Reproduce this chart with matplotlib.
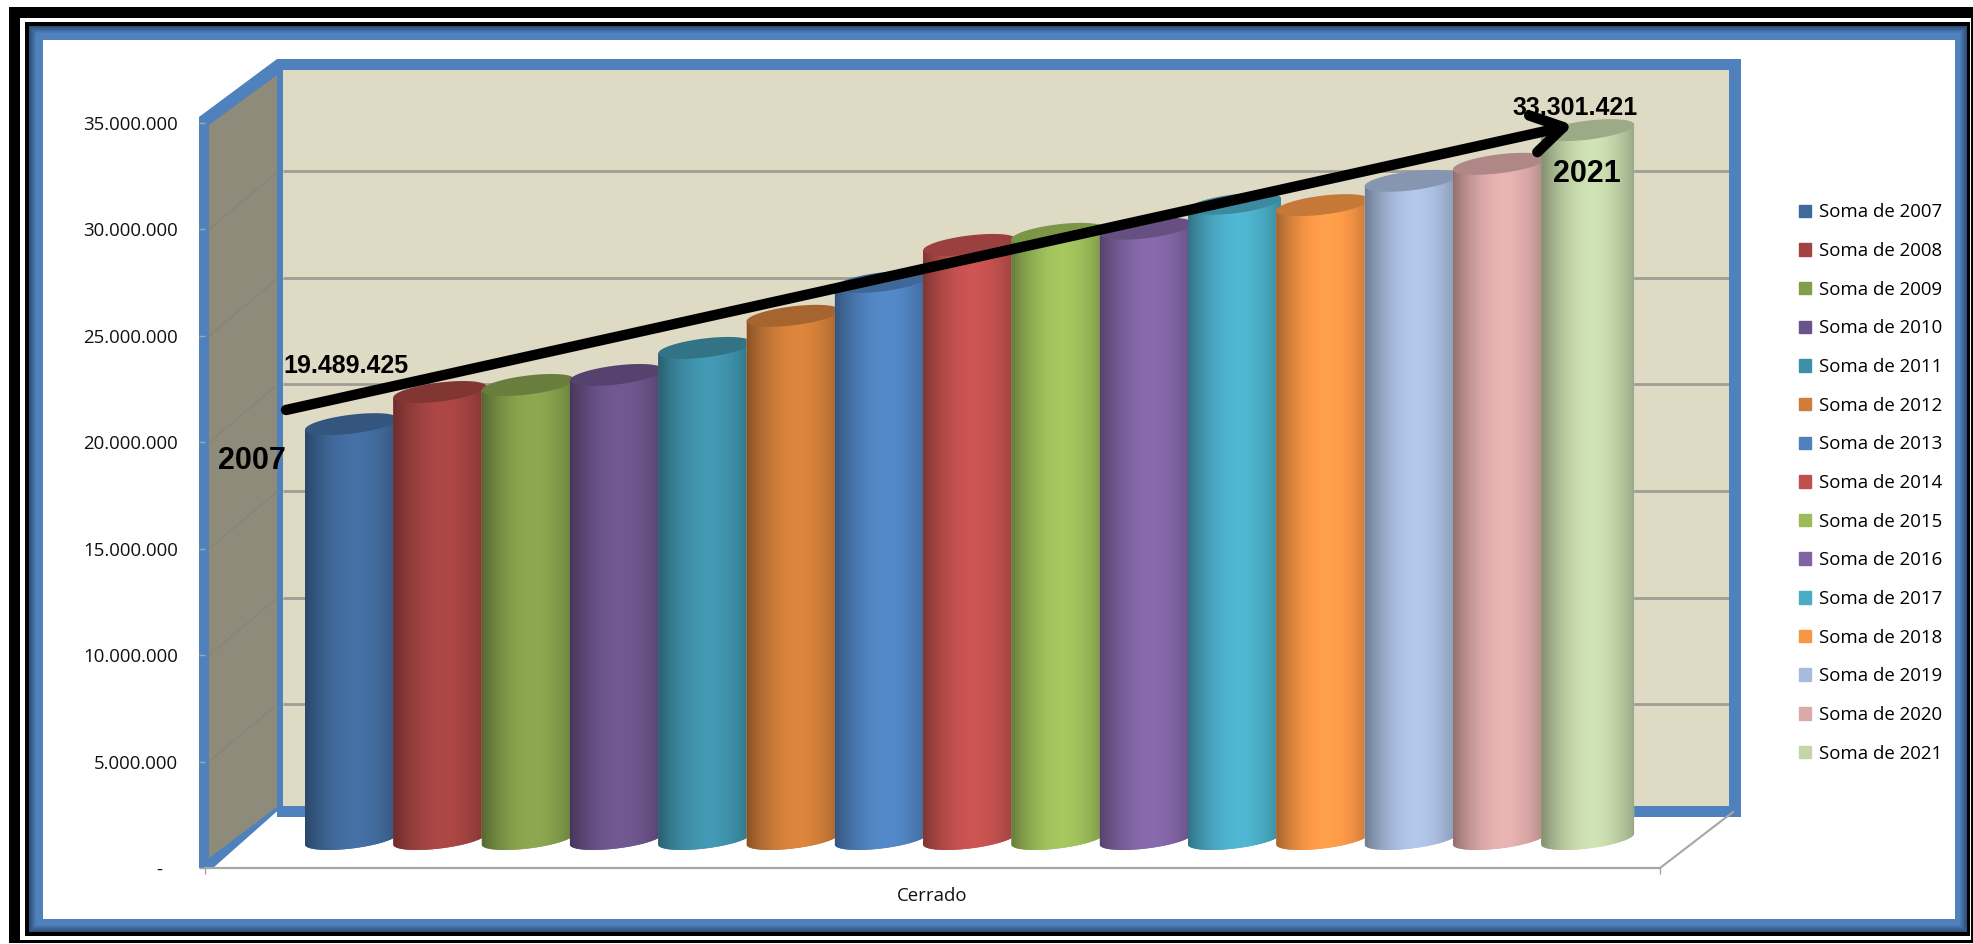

# Cerrado: cilindros 3D por ano (2007-2021)

import numpy as np
import matplotlib
matplotlib.use('Agg')
import matplotlib.pyplot as plt
from matplotlib.patches import Patch, Polygon, Rectangle

W, H = 1973, 944

years = list(range(2007, 2022))
values = [19489425, 21000000, 21330000, 21800000, 23070000, 24580000, 26170000, 27910000,
          28430000, 28670000, 29840000, 29780000, 30920000, 31720000, 33301421]
colors = ['#416A9C', '#A24341', '#839E4B', '#6A5389', '#3E90A8', '#CF7D39', '#4F81BD', '#C0504D',
          '#9BBB59', '#8064A2', '#4BACC6', '#F79646', '#A8BBDD', '#DBA9A8', '#C3D5A9']
y_ticks = [0, 5000000, 10000000, 15000000, 20000000, 25000000, 30000000, 35000000]
y_labels = ['-   ', '5.000.000', '10.000.000', '15.000.000', '20.000.000', '25.000.000', '30.000.000', '35.000.000']

BLUE = '#4F81BD'
TEXT_FONT = ['Open Sans', 'DejaVu Sans']
BOLD_FONT = ['Liberation Sans', 'DejaVu Sans']

PX_PER_UNIT = 745 / 35000000  # escala vertical em pixels


def px_axes(fig, x0, x1, y_bottom, y_top, **kw):
    # eixos posicionados em pixels da imagem
    return fig.add_axes([x0 / W, 1 - y_bottom / H, (x1 - x0) / W, (y_bottom - y_top) / H], **kw)


def fmt(v):
    return f'{v:,}'.replace(',', '.')


def shade(color, k):
    rgb = np.array(matplotlib.colors.to_rgb(color))
    return np.clip(rgb * k, 0, 1)


def draw_frame(ax):
    ax.add_patch(Rectangle((9, 7), W - 9, 937 - 1, color='black', lw=0))
    ax.add_patch(Rectangle((20, 18), W - 22, 922, color='white', lw=0))
    ax.add_patch(Rectangle((25, 22), 1944.5, 914, color='black', lw=0))
    dark = np.array(matplotlib.colors.to_rgb('#2F4F78'))
    light = np.array(matplotlib.colors.to_rgb(BLUE))
    for i in range(8):
        c = dark + (light - dark) * i / 7
        ax.add_patch(Rectangle((29 + i, 26 + i), 1938 - 2 * i, 906 - 2 * i, color=c, lw=0))
    ax.add_patch(Rectangle((43, 40), 1912, 879, color='white', lw=0))


def draw_walls(ax):
    # pared del fondo
    ax.add_patch(Rectangle((277, 59), 1464, 758, color=BLUE, lw=0))
    ax.add_patch(Rectangle((283, 70), 1446, 736, color='#DEDAC4', lw=0))
    # pared lateral con su borde
    ax.add_patch(Polygon([(199, 117), (277, 59), (283, 59), (283, 806), (213, 868), (199, 868)], color=BLUE, lw=0))
    ax.add_patch(Polygon([(209, 125), (277, 75), (277, 807), (209, 858)], color='#8E8B7A', lw=0))
    for v in y_ticks[1:-1]:
        ax.plot([209, 277], [868 - v * PX_PER_UNIT, 811 - v * PX_PER_UNIT], color='#86847A', lw=0.9)
    ax.plot([1660, 1733], [868, 812], color='#A6A6A6', lw=1.5)


def draw_cylinder(ax, i, v, color, half_w=0.5266):
    rx = half_w
    t = np.linspace(0, 2 * np.pi, 120)
    ry = 9.5 / PX_PER_UNIT
    tilt = 5.5 / PX_PER_UNIT

    # cuerpo: lado superior recto, borde inferior del elipse de abajo
    t_low = np.linspace(np.pi, 2 * np.pi, 60)
    low_x = i + rx * np.cos(t_low)
    low_y = ry * np.sin(t_low) + tilt * np.cos(t_low)
    body_x = np.concatenate([[i - rx], low_x, [i + rx]])
    body_y = np.concatenate([[v - tilt], low_y, [v + tilt]])
    body = Polygon(np.column_stack([body_x, body_y]), closed=True, color=color, lw=0)
    ax.add_patch(body)

    # gradiente horizontal del cilindro
    pos = np.linspace(0, 1, 96)
    prof = 1.07 - 0.40 * np.abs((pos - 0.55) / 0.55) ** 1.9
    base = np.array(matplotlib.colors.to_rgb(color))
    img = np.clip(prof[None, :, None] * base[None, None, :], 0, 1)
    im = ax.imshow(img, extent=(i - rx, i + rx, -3 * ry, v + 2 * ry), aspect='auto',
                   interpolation='bilinear', zorder=body.get_zorder())
    im.set_clip_path(body)

    top_x = i + rx * np.cos(t)
    top_y = v + ry * np.sin(t) + tilt * np.cos(t)
    ax.add_patch(Polygon(np.column_stack([top_x, top_y]), closed=True, color=shade(color, 0.8), lw=0, zorder=body.get_zorder()))


if __name__ == '__main__':
    fig = plt.figure(figsize=(W / 100, H / 100), dpi=100, facecolor='white')

    ax_bg = px_axes(fig, 0, W, H, 0)
    ax_bg.set_xlim(0, W)
    ax_bg.set_ylim(H, 0)
    ax_bg.axis('off')
    draw_frame(ax_bg)
    draw_walls(ax_bg)

    # lineas de la pared del fondo
    ax_back = px_axes(fig, 283, 1729, 811, 64.3)
    ax_back.set_ylim(0, 35000000)
    ax_back.set_xlim(0, 1)
    ax_back.patch.set_alpha(0)
    ax_back.hlines(y_ticks[1:-1], 0, 1, color='#A09E94', lw=2)
    ax_back.axis('off')

    # eje frontal con las etiquetas
    ax_front = px_axes(fig, 205, 1660, 868, 123)
    ax_front.patch.set_alpha(0)
    ax_front.set_ylim(0, 35000000)
    ax_front.set_xlim(0, 1)
    for s in ['top', 'right', 'left']:
        ax_front.spines[s].set_visible(False)
    ax_front.spines['bottom'].set_color('#A6A6A6')
    ax_front.spines['bottom'].set_linewidth(1.6)
    ax_front.set_yticks(y_ticks)
    ax_front.set_yticklabels(y_labels, family=TEXT_FONT, fontsize=13.4, color='#111111')
    ax_front.tick_params(axis='y', length=4.5, width=1, color='#A6A6A6', pad=15)
    ax_front.set_xticks([0.5])
    ax_front.set_xticklabels(['Cerrado'], family=TEXT_FONT, fontsize=13.4, color='#111111')
    ax_front.set_xticks([0, 1], minor=True)
    ax_front.tick_params(axis='x', which='major', length=0, pad=14)
    ax_front.tick_params(axis='x', which='minor', length=4.5, width=1, color='#A6A6A6')

    # cilindros
    y_min = -30 / PX_PER_UNIT
    ax_bars = px_axes(fig, 351.5 - 88.3, 351.5 + 15 * 88.3, 839 + 30, 94)
    ax_bars.patch.set_alpha(0)
    for i, (v, c) in enumerate(zip(values, colors)):
        draw_cylinder(ax_bars, i, v, c)
    ax_bars.set_xlim(-1, 15)
    ax_bars.set_ylim(y_min, 35000000)
    ax_bars.axis('off')

    handles = [Patch(color=c, label=f'Soma de {y}') for y, c in zip(years, colors)]
    ax_bars.legend(handles=handles, loc='upper left', bbox_to_anchor=(1790 / W, 1 - 194 / H),
                   bbox_transform=fig.transFigure, frameon=False, prop={'family': TEXT_FONT, 'size': 13.4},
                   handlelength=0.65, handleheight=0.65, handletextpad=0.4, labelspacing=1.11,
                   borderpad=0.5, borderaxespad=0)

    # textos y flecha encima
    ax_top = px_axes(fig, 0, W, H, 0)
    ax_top.set_xlim(0, W)
    ax_top.set_ylim(H, 0)
    ax_top.patch.set_alpha(0)
    ax_top.axis('off')
    ax_top.text(346, 366, fmt(values[0]), family=BOLD_FONT, weight='bold', fontsize=18, ha='center', va='center')
    ax_top.text(1575, 108, fmt(values[-1]), family=BOLD_FONT, weight='bold', fontsize=18, ha='center', va='center')
    ax_top.text(252, 461, str(years[0]), family=BOLD_FONT, weight='bold', fontsize=22, ha='center', va='center')
    ax_top.text(1587, 174, str(years[-1]), family=BOLD_FONT, weight='bold', fontsize=22, ha='center', va='center')
    ax_top.annotate('', xy=(1573, 125), xytext=(286, 410),
                    arrowprops=dict(arrowstyle='->,head_length=0.85,head_width=0.52', lw=7.5, color='black',
                                    mutation_scale=26, shrinkA=0, shrinkB=0, capstyle='round'))

    fig.savefig('out.png', dpi=100)
    plt.close()
